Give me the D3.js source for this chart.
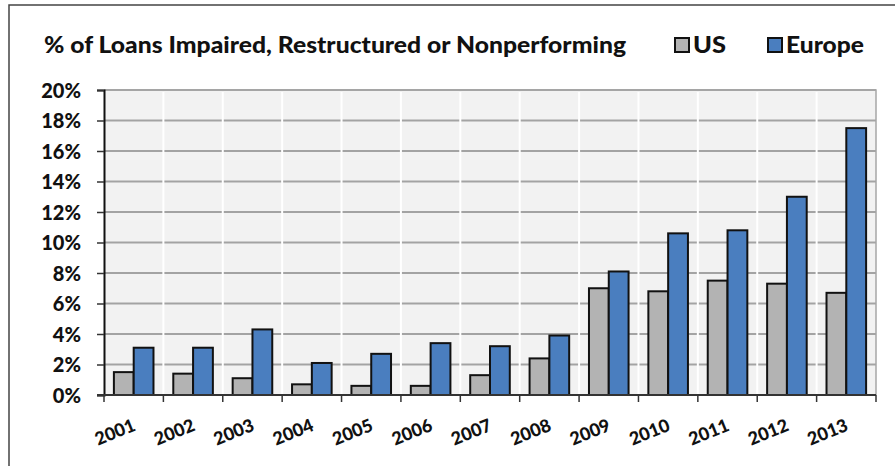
<!DOCTYPE html>
<html>
<head>
<meta charset="utf-8">
<script src="https://cdn.jsdelivr.net/npm/d3@7"></script>
<style>
  html, body { margin: 0; padding: 0; background: #fff; }
  svg { display: block; font-family: Lato, 'Open Sans', sans-serif; font-weight: 900; }
</style>
</head>
<body>
<div id="container"></div>
<script>
const years = ['2001', '2002', '2003', '2004', '2005', '2006', '2007',
  '2008', '2009', '2010', '2011', '2012', '2013'];
const usValues = [1.5, 1.4, 1.1, 0.7, 0.6, 0.6, 1.3, 2.4, 7.0, 6.8, 7.5, 7.3, 6.7];
const europeValues = [3.1, 3.1, 4.3, 2.1, 2.7, 3.4, 3.2, 3.9, 8.1, 10.6, 10.8, 13.0, 17.5];
const yTicks = [0, 2, 4, 6, 8, 10, 12, 14, 16, 18, 20];
const seriesNames = ['US', 'Europe'];

const width = 895;
const height = 466;
const margin = { top: 90, right: 19, bottom: 71, left: 104 };
const colors = { US: '#b3b3b3', Europe: '#4a7ebf' };

const rows = years.map((y, i) => ({ year: y, US: usValues[i], Europe: europeValues[i] }));

const svg = d3
  .select('#container')
  .append('svg')
  .attr('width', width)
  .attr('height', height);

// fits a text to a target width by squeezing the glyphs
function fitWidth(sel, target) {
  const len = sel.node().getComputedTextLength();
  if (Math.abs(len - target) > 2) {
    sel.attr('textLength', target).attr('lengthAdjust', 'spacingAndGlyphs');
  }
}

// outer frame (top and left edges only show in the picture)
svg.append('path')
  .attr('d', `M9,${height}V5H${width}`)
  .attr('fill', 'none')
  .attr('stroke', '#444')
  .attr('stroke-width', 1.5);

const x0 = d3
  .scaleBand()
  .domain(years)
  .range([margin.left, width - margin.right])
  .paddingInner(1 / 3)
  .paddingOuter(1 / 6);

const x1 = d3
  .scaleBand()
  .domain(seriesNames)
  .range([0, x0.bandwidth()]);

const y = d3
  .scaleLinear()
  .domain([0, 20])
  .range([height - margin.bottom, margin.top]);

const step = x0.step();
const plotLeft = margin.left;
const plotRight = width - margin.right;

// plot background
svg.append('rect')
  .attr('x', plotLeft)
  .attr('y', y(20))
  .attr('width', plotRight - plotLeft)
  .attr('height', y(0) - y(20))
  .attr('fill', '#f2f2f2');

// horizontal gridlines
svg.append('g')
  .selectAll('line')
  .data(yTicks.filter(d => d > 0))
  .enter()
  .append('line')
  .attr('x1', plotLeft)
  .attr('x2', plotRight)
  .attr('y1', d => y(d))
  .attr('y2', d => y(d))
  .attr('stroke', '#a3a3a3')
  .attr('stroke-width', 2);

// white vertical separators between categories
svg.append('g')
  .selectAll('line')
  .data(years.slice(1))
  .enter()
  .append('line')
  .attr('x1', d => x0(d) - step / 6)
  .attr('x2', d => x0(d) - step / 6)
  .attr('y1', y(20) + 2)
  .attr('y2', y(0))
  .attr('stroke', '#fff')
  .attr('stroke-width', 2);

// plot border top + right
svg.append('path')
  .attr('d', `M${plotLeft},${y(20)}H${plotRight}V${y(0)}`)
  .attr('fill', 'none')
  .attr('stroke', '#a6a6a6')
  .attr('stroke-width', 1.5);

// bars
const groups = svg
  .append('g')
  .selectAll('g')
  .data(rows)
  .enter()
  .append('g')
  .attr('transform', d => `translate(${x0(d.year)},0)`);

groups
  .selectAll('rect')
  .data(d => seriesNames.map(k => ({ key: k, value: d[k] })))
  .enter()
  .append('rect')
  .attr('x', d => x1(d.key))
  .attr('y', d => y(d.value))
  .attr('width', x1.bandwidth())
  .attr('height', d => y(0) - y(d.value))
  .attr('fill', d => colors[d.key])
  .attr('stroke', '#111')
  .attr('stroke-width', 2);

// y axis
const yAxis = d3
  .axisLeft(y)
  .tickValues(yTicks)
  .tickSize(7)
  .tickPadding(16)
  .tickFormat(d => `${d}%`);

const yg = svg.append('g')
  .attr('transform', `translate(${plotLeft},0)`)
  .call(yAxis);
yg.select('.domain').attr('stroke', '#111').attr('stroke-width', 2);
yg.selectAll('.tick line').attr('stroke', '#333').attr('stroke-width', 1.5);
yg.selectAll('.tick text')
  .attr('fill', '#111')
  .attr('dy', '0.36em')
  .style('font-size', '20px')
  .style('font-family', 'Lato, sans-serif')
  .style('font-weight', '900');

// x axis line and boundary ticks
const boundaries = years.map(d => x0(d) - step / 6).concat([plotRight]);
svg.append('line')
  .attr('x1', plotLeft - 7)
  .attr('x2', plotRight)
  .attr('y1', y(0))
  .attr('y2', y(0))
  .attr('stroke', '#333')
  .attr('stroke-width', 2);

svg.append('g')
  .selectAll('line')
  .data(boundaries)
  .enter()
  .append('line')
  .attr('x1', d => d)
  .attr('x2', d => d)
  .attr('y1', y(0))
  .attr('y2', y(0) + 7)
  .attr('stroke', '#333')
  .attr('stroke-width', 1.5);

// x labels, rotated
svg.append('g')
  .selectAll('text')
  .data(years)
  .enter()
  .append('text')
  .attr('text-anchor', 'end')
  .attr('transform', d => `translate(${x0(d) + x0.bandwidth() / 2 + 3},${y(0) + 35}) rotate(-22)`)
  .attr('fill', '#111')
  .style('font-size', '18px')
  .text(d => d);

// title
const title = svg.append('text')
  .attr('x', 44)
  .attr('y', 53)
  .attr('fill', '#111')
  .style('font-size', '23px')
  .text('% of Loans Impaired, Restructured or Nonperforming');
fitWidth(title, 582);

// legend
const legendX = { US: 675, Europe: 768 };
const legendW = { US: 33, Europe: 78 };
const legend = svg
  .append('g')
  .selectAll('g')
  .data(seriesNames)
  .enter()
  .append('g')
  .attr('transform', d => `translate(${legendX[d]},38)`);

legend.append('rect')
  .attr('width', 14)
  .attr('height', 14)
  .attr('fill', d => colors[d])
  .attr('stroke', '#111')
  .attr('stroke-width', 2);

legend.append('text')
  .attr('x', 18)
  .attr('y', 15)
  .attr('fill', '#111')
  .style('font-size', '23px')
  .text(d => d)
  .each(function (d) { fitWidth(d3.select(this), legendW[d]); });
</script>
</body>
</html>
